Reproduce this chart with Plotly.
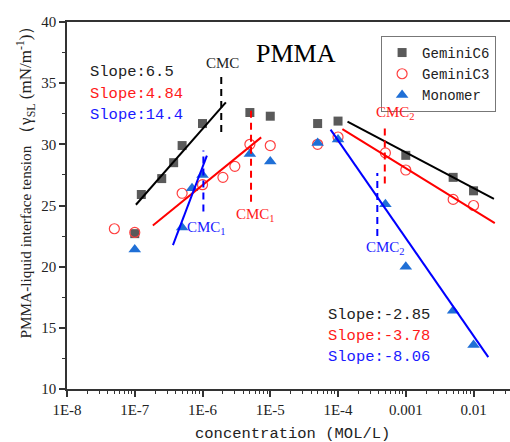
import plotly.graph_objects as go

# ---------------- data ----------------
conc_c6 = [1e-7, 1.25e-7, 2.5e-7, 3.75e-7, 5e-7, 1e-6, 5e-6, 1e-5, 5e-5, 1e-4, 1e-3, 5e-3, 1e-2]
gamma_c6 = [22.7, 25.9, 27.2, 28.5, 29.9, 31.7, 32.6, 32.3, 31.7, 31.9, 29.1, 27.3, 26.2]

conc_c3 = [5e-8, 1e-7, 5e-7, 1e-6, 2e-6, 3e-6, 5e-6, 1e-5, 5e-5, 1e-4, 5e-4, 1e-3, 5e-3, 1e-2]
gamma_c3 = [23.1, 22.8, 26.0, 26.7, 27.3, 28.2, 30.0, 29.9, 30.0, 30.6, 29.3, 27.9, 25.5, 25.0]

conc_mono = [1e-7, 5e-7, 7e-7, 1e-6, 5e-6, 1e-5, 5e-5, 1e-4, 5e-4, 1e-3, 5e-3, 1e-2]
gamma_mono = [21.4, 23.2, 26.4, 27.5, 29.2, 28.6, 30.1, 30.4, 25.1, 20.0, 16.4, 13.6]

# linear fits (end points of the fitted segments)
fit_c6_low_x, fit_c6_low_y = [1.04e-7, 2.21e-6], [25.06, 33.43]
fit_c3_low_x, fit_c3_low_y = [1.85e-7, 7.35e-6], [23.36, 30.57]
fit_mono_low_x, fit_mono_low_y = [3.66e-7, 1.16e-6], [21.76, 29.07]
fit_c6_high_x, fit_c6_high_y = [1.38e-4, 2.0e-2], [31.85, 25.55]
fit_c3_high_x, fit_c3_high_y = [1.16e-4, 2.06e-2], [31.25, 23.56]
fit_mono_high_x, fit_mono_high_y = [7.76e-5, 1.65e-2], [31.2, 12.6]

# CMC markers: concentration, y-start, y-end
cmc_c6 = (1.89e-6, 31.0, 35.8)
cmc1_c3 = (5.2e-6, 25.3, 32.8)
cmc1_mono = (1.03e-6, 24.5, 29.5)
cmc2_c3 = (4.9e-4, 26.8, 31.7)
cmc2_mono = (3.8e-4, 22.5, 27.65)

x_tickvals = [1e-8, 1e-7, 1e-6, 1e-5, 1e-4, 1e-3, 1e-2]
x_ticktext = ["1E-8", "1E-7", "1E-6", "1E-5", "1E-4", "0.001", "0.01"]

slopes_low = ["Slope:6.5", "Slope:4.84", "Slope:14.4"]
slopes_high = ["Slope:-2.85", "Slope:-3.78", "Slope:-8.06"]

# ---------------- style ----------------
BLACK = "#222222"
RED = "#ff1a1a"
BLUE = "#1a1aff"
GRAY_SQ = "#5a5a5a"
RED_C = "#ff4040"
BLUE_T = "#1f6fd6"
MONO = "Liberation Mono"
SERIF = "Liberation Serif"

fig = go.Figure()

fig.add_trace(go.Scatter(x=conc_c6, y=gamma_c6, mode="markers", name="GeminiC6",
                         marker=dict(symbol="square", size=9, color=GRAY_SQ)))
fig.add_trace(go.Scatter(x=conc_c3, y=gamma_c3, mode="markers", name="GeminiC3",
                         marker=dict(symbol="circle-open", size=10, color=RED_C, line=dict(width=1.2))))
fig.add_trace(go.Scatter(x=conc_mono, y=gamma_mono, mode="markers", name="Monomer",
                         marker=dict(symbol="triangle-up", size=11, color=BLUE_T)))

for xs, ys, c in [(fit_c6_low_x, fit_c6_low_y, "black"), (fit_c3_low_x, fit_c3_low_y, "#ff0000"),
                  (fit_mono_low_x, fit_mono_low_y, "#0000ff"), (fit_c6_high_x, fit_c6_high_y, "black"),
                  (fit_c3_high_x, fit_c3_high_y, "#ff0000"), (fit_mono_high_x, fit_mono_high_y, "#0000ff")]:
    fig.add_trace(go.Scatter(x=xs, y=ys, mode="lines", showlegend=False, hoverinfo="skip",
                             line=dict(color=c, width=2)))

for (cx, y0, y1), c in [(cmc_c6, "black"), (cmc1_c3, "#ff0000"), (cmc1_mono, "#0000ff"),
                        (cmc2_c3, "#ff0000"), (cmc2_mono, "#0000ff")]:
    fig.add_trace(go.Scatter(x=[cx, cx], y=[y0, y1], mode="lines", showlegend=False, hoverinfo="skip",
                             line=dict(color=c, width=2, dash="7px,5px")))

ann = []
# title
ann.append(dict(x=-4.625, y=37.4, xref="x", yref="y", text="PMMA", showarrow=False,
                font=dict(family=SERIF, size=26, color="black")))
# slope texts
for i, (t, c) in enumerate(zip(slopes_low, [BLACK, RED, BLUE])):
    ann.append(dict(x=-7.69, y=35.88 - i * 1.73, xref="x", yref="y", text=t, showarrow=False,
                    xanchor="left", font=dict(family=MONO, size=15.5, color=c)))
for i, (t, c) in enumerate(zip(slopes_high, [BLACK, RED, BLUE])):
    ann.append(dict(x=-4.18, y=16.06 - i * 1.72, xref="x", yref="y", text=t, showarrow=False,
                    xanchor="left", font=dict(family=MONO, size=15.5, color=c)))
# CMC labels
for t, x, y, c in [("CMC", -5.70, 36.65, BLACK), ("CMC<sub>1</sub>", -5.22, 24.2, RED),
                   ("CMC<sub>1</sub>", -5.935, 23.2, BLUE), ("CMC<sub>2</sub>", -3.157, 32.6, RED),
                   ("CMC<sub>2</sub>", -3.305, 21.5, BLUE)]:
    ann.append(dict(x=x, y=y, xref="x", yref="y", text=t, showarrow=False,
                    font=dict(family=SERIF, size=15, color=c)))
# axis titles
ann.append(dict(x=0.508, y=-0.123, xref="paper", yref="paper", text="concentration (MOL/L)",
                showarrow=False, yanchor="middle", font=dict(family=MONO, size=15.5, color=BLACK)))
ann.append(dict(x=-0.0926, y=0.576, xref="paper", yref="paper", textangle=-90, showarrow=False,
                xanchor="center", yanchor="middle",
                text="PMMA-liquid interface tension "
                     "<span style=\"font-size:17px\">（γ<sub>SL</sub> (mN/m<sup>-1</sup>)）</span>",
                font=dict(family=SERIF, size=15.3, color=BLACK)))

fig.update_layout(
    width=510, height=442,
    margin=dict(l=67, r=0, t=22, b=53),
    plot_bgcolor="white", paper_bgcolor="white",
    showlegend=True,
    legend=dict(x=0.709, y=0.962, xanchor="left", yanchor="top", bgcolor="white",
                bordercolor="#777777", borderwidth=1,
                font=dict(family=MONO, size=14, color=BLACK), tracegroupgap=0),
    annotations=ann,
)
fig.update_xaxes(type="log", range=[-8, -1.462], showline=True, linecolor="#333333", linewidth=1.5,
                 mirror=True, ticks="outside", ticklen=6, tickwidth=1.5, tickcolor="#333333",
                 tickmode="array", tickvals=x_tickvals, ticktext=x_ticktext,
                 showgrid=False, zeroline=False,
                 tickfont=dict(family=SERIF, size=15, color=BLACK),
                 minor=dict(ticks="outside", ticklen=3, tickwidth=1.2, tickcolor="#333333",
                            dtick="D1", showgrid=False))
fig.update_yaxes(range=[10, 40], tick0=10, dtick=5, showline=True, linecolor="#333333", linewidth=1.5,
                 mirror=False, ticks="outside", ticklen=6, tickwidth=1.5, tickcolor="#333333",
                 showgrid=False, zeroline=False,
                 tickfont=dict(family=SERIF, size=15, color=BLACK),
                 minor=dict(ticks="outside", ticklen=3, tickwidth=1.2, tickcolor="#333333",
                            dtick=2.5, showgrid=False))

fig.write_html("out.html", config={"displayModeBar": False},
               post_script="document.body.style.margin='0px';")
